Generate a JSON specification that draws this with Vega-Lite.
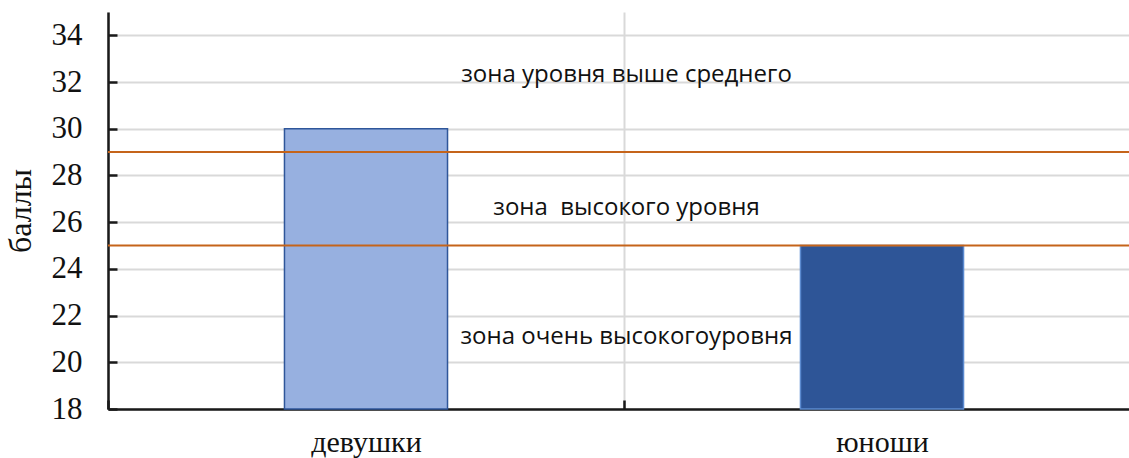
{
  "$schema": "https://vega.github.io/schema/vega-lite/v6.json",
  "autosize": "none",
  "width": 1021,
  "height": 397,
  "padding": {"left": 108, "top": 12, "right": 0, "bottom": 49},
  "background": "white",
  "config": {"view": {"stroke": null}},
  "datasets": {
    "bars": [
      {"group": "девушки", "score": 30},
      {"group": "юноши", "score": 25}
    ],
    "levels": [
      {"level": 29},
      {"level": 25}
    ],
    "zones": [
      {"label": "зона уровня выше среднего", "pos": 32.3},
      {"label": "зона\u00a0 высокого уровня", "pos": 26.6},
      {"label": "зона очень высокогоуровня", "pos": 21.1}
    ]
  },
  "layer": [
    {
      "data": {"name": "bars"},
      "mark": {"type": "bar", "width": {"band": 0.316}, "strokeWidth": 1.5},
      "encoding": {
        "x": {
          "field": "group", "type": "nominal", "sort": null,
          "scale": {"paddingInner": 0, "paddingOuter": 0, "range": [0, 1032]},
          "axis": {
            "title": null, "labelAngle": 0, "tickBand": "extent",
            "grid": true, "gridColor": "#d9d9d9", "gridWidth": 2,
            "domainColor": "#1a1a1a", "domainWidth": 2.5,
            "tickColor": "#1a1a1a", "tickWidth": 2.5, "tickSize": -9,
            "labelFont": "Liberation Serif", "labelFontSize": 30, "labelColor": "#111",
            "labelPadding": 27, "labelBaseline": "top"
          }
        },
        "y": {
          "field": "score", "type": "quantitative",
          "scale": {"domain": [18, 35], "nice": false, "zero": false},
          "axis": {
            "title": "баллы", "titleFont": "Liberation Serif", "titleFontSize": 32,
            "titleFontWeight": "normal", "titleColor": "#111", "titlePadding": 14,
            "values": [18,19,20,21,22,23,24,25,26,27,28,29,30,31,32,33,34,35],
            "labelExpr": "datum.value % 2 === 0 ? datum.label : ''",
            "grid": true, "gridColor": "#d9d9d9", "gridWidth": 2,
            "gridOpacity": {"condition": {"test": "datum.value % 2 === 1", "value": 0}, "value": 1},
            "domainColor": "#1a1a1a", "domainWidth": 2.5,
            "tickColor": "#1a1a1a", "tickWidth": 2.5, "tickSize": -9,
            "labelFont": "Liberation Serif", "labelFontSize": 31, "labelColor": "#111",
            "labelPadding": 35
          }
        },
        "y2": {"datum": 18},
        "color": {
          "field": "group", "type": "nominal",
          "scale": {"domain": ["девушки", "юноши"], "range": ["#97b0e0", "#2e5597"]},
          "legend": null
        },
        "stroke": {
          "field": "group", "type": "nominal",
          "scale": {"domain": ["девушки", "юноши"], "range": ["#2f569a", "#5b8ad0"]},
          "legend": null
        }
      }
    },
    {
      "data": {"name": "levels"},
      "mark": {"type": "rule", "color": "#c5641a", "strokeWidth": 2},
      "encoding": {
        "y": {"field": "level", "type": "quantitative"}
      }
    },
    {
      "data": {"name": "zones"},
      "mark": {"type": "text", "font": "Open Sans", "fontSize": 24, "color": "#111", "align": "center", "baseline": "middle", "dx": 8},
      "encoding": {
        "y": {"field": "pos", "type": "quantitative"},
        "text": {"field": "label", "type": "nominal"}
      }
    }
  ]
}
